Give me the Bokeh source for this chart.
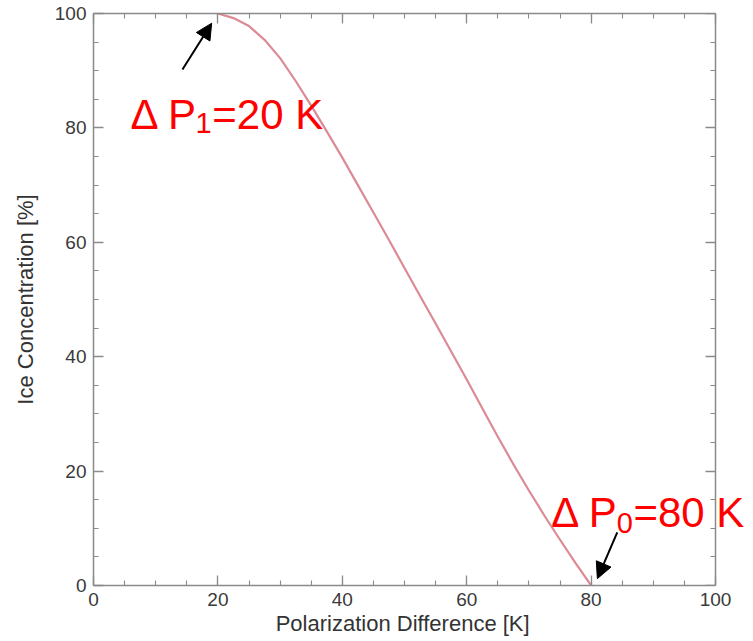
from bokeh.plotting import figure
from bokeh.models import (LinearAxis, SingleIntervalTicker, Range1d, Label,
                          Arrow, NormalHead)
from bokeh.embed import file_html
from bokeh.resources import INLINE

# Data
pol_diff = [20, 22.5, 25, 27.5, 30, 32.5, 35, 37.5, 40, 42.5, 45, 47.5, 50,
            52.5, 55, 57.5, 60, 62.5, 65, 67.5, 70, 72.5, 75, 77.5, 80]
ice_conc = [100, 99.2, 97.8, 95.4, 92.2, 88.2, 83.9, 79.4, 74.8, 70.0, 65.2, 60.4, 55.5,
            50.6, 45.8, 40.9, 36.0, 31.0, 26.0, 21.2, 16.6, 12.2, 8.0, 3.9, 0]

dp1 = 20
dp0 = 80

axis_min, axis_max = 0, 100
tick_interval = 20
FONT = "Liberation Sans"
GRAY = "#8a8a8a"

# The frame is a little wider than the axis box so the "=80 K" label is not clipped;
# the right axis is drawn at x = 100 and the horizontal axes are bounded to 0..100.
X_VIEW_END = 105.3

p = figure(width=753, height=641, output_backend="svg", toolbar_location=None,
           x_range=Range1d(axis_min, X_VIEW_END), y_range=Range1d(axis_min, axis_max),
           min_border_left=93, min_border_right=5, min_border_top=13,
           min_border_bottom=56, background_fill_color="white",
           border_fill_color="white", x_axis_location=None, y_axis_location=None)
p.xgrid.visible = False
p.ygrid.visible = False
p.outline_line_color = None


def make_axis(labels=True, title=None):
    ax = LinearAxis(ticker=SingleIntervalTicker(interval=tick_interval, num_minor_ticks=4),
                    bounds=(axis_min, axis_max))
    ax.axis_line_color = GRAY
    ax.axis_line_width = 1.5
    ax.major_tick_line_color = GRAY
    ax.minor_tick_line_color = GRAY
    ax.major_tick_line_width = 1.3
    ax.minor_tick_line_width = 1.1
    ax.major_tick_in = 10
    ax.major_tick_out = 0
    ax.minor_tick_in = 5
    ax.minor_tick_out = 0
    if labels:
        ax.major_label_text_font = FONT
        ax.major_label_text_font_size = "19px"
        ax.major_label_text_color = "#3a3a3a"
        ax.major_label_standoff = 7
    else:
        ax.major_label_text_font_size = "0px"
        ax.major_label_standoff = 0
        ax.major_label_text_color = None
    if title:
        ax.axis_label = title
        ax.axis_label_text_font = FONT
        ax.axis_label_text_font_size = "22px"
        ax.axis_label_text_font_style = "normal"
        ax.axis_label_text_color = "#333333"
    return ax


# trailing no-break spaces keep the title centred under the 0..100 axis box
xb = make_axis(title="Polarization Difference [K]" + "\u00a0" * 6)
xb.axis_label_standoff = 2
yl = make_axis(title="Ice Concentration [%]")
yl.axis_label_standoff = 14
p.add_layout(xb, "below")
p.add_layout(yl, "left")
p.add_layout(make_axis(labels=False), "above")
yr = make_axis(labels=False)
yr.fixed_location = axis_max
p.add_layout(yr, "right")

p.line(pol_diff, ice_conc, line_color="#dc8a94", line_width=2.2,
       line_join="round")

RED = "#ff0000"


def lab(x, y, text, size):
    p.add_layout(Label(x=x, y=y, text=text, text_font=FONT, text_font_size=size,
                       text_color=RED, text_align="left", text_baseline="alphabetic"))


# Delta P1 annotation
lab(5.95, 82.3, "Δ P", "42px")
lab(16.4, 80.8, "1", "29px")
lab(19.1, 82.3, "=%d K" % dp1, "42px")
# Delta P0 annotation
lab(73.6, 12.8, "Δ P", "42px")
lab(84.1, 11.0, "0", "29px")
lab(86.8, 12.8, "=%d K" % dp0, "42px")

p.add_layout(Arrow(end=NormalHead(size=16, fill_color="black", line_color="black"),
                   x_start=14.3, y_start=90.2, x_end=19.0, y_end=98.3,
                   line_color="black", line_width=2))
p.add_layout(Arrow(end=NormalHead(size=16, fill_color="black", line_color="black"),
                   x_start=84.2, y_start=9.3, x_end=81.0, y_end=1.2,
                   line_color="black", line_width=2))

open("out.html", "w").write(file_html(p, INLINE))
